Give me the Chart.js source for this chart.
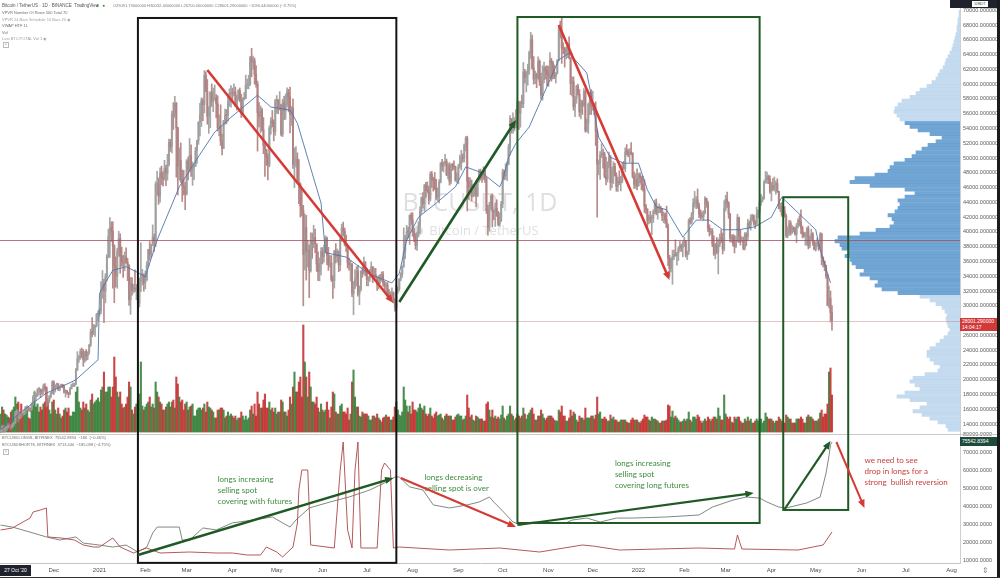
<!DOCTYPE html>
<html><head><meta charset="utf-8">
<script src="https://cdn.jsdelivr.net/npm/chart.js@4.4.1/dist/chart.umd.min.js"></script>
<style>
html,body{margin:0;padding:0;background:#fff;}
#wrap{position:relative;width:1000px;height:578px;overflow:hidden;background:#fff;font-family:"Liberation Sans",Arial,sans-serif;}
#c{position:absolute;left:0;top:0;}
.t{position:absolute;white-space:nowrap;color:#6d6d6d;font-size:4px;line-height:5px;}
.box{position:absolute;white-space:nowrap;font-size:5px;line-height:6px;color:#fff;}
</style></head><body>
<div id="wrap">
<canvas id="c" width="1000" height="578"></canvas>
<div class="t" style="left:2px;top:3px;color:#555;font-size:4.5px;">Bitcoin / TetherUS · 1D · BINANCE &nbsp;TradingView</div>
<div class="t" style="left:96px;top:3px;color:#3a8a3a;font-size:4.5px;">● &nbsp;&nbsp;●</div>
<div class="t" style="left:113px;top:3px;font-size:4px;color:#7a7a7a;">O29091.73000000 H30032.44000000 L26700.00000000 C28001.29000000 −1090.44000000 (−3.75%)</div>
<div class="t" style="left:2px;top:10px;">VPVR Number Of Rows 500 Total 70</div>
<div class="t" style="left:2px;top:16.5px;color:#a0a0a0;">VPVR 24 Bars Schedule 10 Bars 20 ◉</div>
<div class="t" style="left:2px;top:23px;">VWAP HTF 1L</div>
<div class="t" style="left:2px;top:29.5px;">Vol</div>
<div class="t" style="left:2px;top:36px;color:#a0a0a0;">Last BTC/TOTAL Vol 1 ◉</div>
<div class="t" style="left:3px;top:42px;border:1px solid #bbb;padding:0 1px;font-size:4px;line-height:4px;">^</div>
<div class="t" style="left:2px;top:435px;">BTCUSDLONGS, BITFINEX &nbsp;75542.8394 &nbsp;−180 &nbsp;(−0.46%)</div>
<div class="t" style="left:2px;top:442px;">BTCUSDSHORTS, BITFINEX &nbsp;3713.440 &nbsp;−185.098 (−4.75%)</div>
<div class="t" style="left:3px;top:449px;border:1px solid #bbb;padding:0 1px;font-size:4px;line-height:4px;">^</div>
<div class="box" style="left:0;top:565px;width:31px;height:11px;background:#1e222d;font-size:5px;line-height:11px;text-align:center;">27 Oct '20</div>
<div class="t" style="left:982px;top:567px;color:#888;font-size:8px;line-height:8px;">⇕</div>
<div class="box" style="left:960px;top:318px;width:40px;height:13px;background:#d23a3a;padding-left:2px;line-height:6px;">28001.290000<br>14:04:17</div>
<div class="box" style="left:960px;top:437px;width:40px;height:9px;background:#1d4a3a;padding-left:2px;line-height:9px;">75542.8394</div>
<div class="box" style="left:950px;top:0;width:50px;height:8px;background:#1e222d;"></div>
<div class="box" style="left:972px;top:1px;width:16px;height:6px;background:#fff;color:#333;font-size:4px;text-align:center;">USDT</div>
<div style="position:absolute;left:997px;top:0;width:3px;height:578px;background:#1b1b1b;"></div>
<div style="position:absolute;left:0;top:577px;width:1000px;height:1px;background:#333;"></div>
</div>
<script>
// ---------- DATA ----------
const START_DATE = '2020-10-26';
const PRICE_UNIT = 1000;
const OPEN_FIRST = 13.03;
// daily closes (thousand USDT), 2020-10-26 .. 2022-05-12
const CLOSE = [
13.05,13.65,13.27,13.46,13.56,13.80,
13.76,13.55,14.03,14.15,15.59,15.59,14.83,15.48,15.33,15.30,15.70,16.29,16.32,16.07,15.96,16.73,17.66,17.80,17.82,18.66,18.70,18.41,18.37,19.16,18.72,17.15,17.14,17.72,18.18,19.70,
18.76,19.20,19.42,18.65,19.15,19.36,19.17,18.32,18.55,18.26,18.04,18.80,19.17,19.27,19.43,21.35,22.80,23.11,23.82,23.45,22.72,23.81,23.23,23.73,24.69,26.49,26.28,27.03,27.36,28.84,28.92,
29.33,32.18,33.00,31.99,33.95,36.77,39.43,40.58,40.09,38.15,35.40,34.04,37.39,39.14,36.73,36.01,35.79,36.63,35.89,35.47,30.83,33.00,32.07,32.27,32.25,32.47,30.37,33.40,34.26,34.26,33.11,
33.52,35.47,37.62,36.94,38.29,39.26,38.87,46.45,46.51,44.84,47.97,47.41,47.19,48.58,47.91,49.13,52.12,51.55,55.91,55.84,57.41,54.09,48.89,49.68,47.07,46.28,46.11,45.14,
49.59,48.44,50.35,48.37,48.75,48.88,50.97,52.38,54.88,55.86,57.78,57.22,61.19,59.00,55.64,56.91,58.91,57.65,58.03,58.10,57.35,54.08,54.34,52.30,51.30,55.03,55.85,55.78,57.63,58.73,58.74,
58.72,58.96,57.06,58.20,59.13,57.99,56.00,58.09,58.09,59.86,59.86,59.99,63.58,62.96,63.16,61.33,60.01,56.15,55.66,56.47,53.80,51.70,51.19,50.10,49.06,54.03,55.03,54.83,53.56,57.75,
57.83,56.62,57.21,53.24,57.47,56.43,57.38,58.93,58.28,55.86,56.75,49.15,49.72,49.88,46.76,46.45,43.54,42.91,36.96,40.60,37.32,37.54,34.77,38.81,38.32,39.24,38.43,35.69,34.61,35.68,37.34,
36.69,37.57,39.19,36.89,35.54,35.80,33.58,33.40,37.39,36.68,37.33,35.55,39.02,40.52,40.14,38.35,38.09,35.82,35.48,35.60,31.68,32.51,33.68,34.66,31.59,32.28,34.70,34.49,35.91,35.04,
33.57,33.80,34.67,35.29,33.69,34.22,33.86,32.88,33.82,33.52,34.24,33.16,32.70,32.82,31.78,31.42,31.52,31.78,30.84,29.79,32.14,32.29,33.66,34.29,35.40,37.28,39.46,40.03,40.01,42.24,41.63,
39.97,39.20,38.15,39.75,40.87,42.84,44.61,43.83,46.29,45.60,45.54,44.43,47.83,47.10,47.02,45.94,44.69,44.74,46.76,49.34,48.87,49.29,49.55,47.71,48.97,46.84,49.07,48.90,48.81,46.99,47.13,
48.83,49.28,50.03,49.94,51.79,52.70,46.86,46.05,46.40,44.85,45.17,46.03,44.94,47.10,48.15,47.75,47.30,48.31,47.26,42.96,40.59,43.57,44.90,42.84,42.72,43.21,42.23,41.03,41.56,43.79,
48.14,47.63,48.20,49.22,51.47,55.32,53.80,53.93,54.95,54.66,57.47,56.01,57.37,57.35,61.67,60.88,61.53,62.01,64.28,66.00,62.19,60.69,61.29,60.85,63.08,60.33,58.46,60.59,62.25,61.85,61.30,
60.91,63.22,62.90,61.40,61.00,61.53,63.27,67.53,66.94,64.88,64.81,64.15,64.40,65.50,63.60,60.06,60.36,56.89,58.05,59.71,58.62,56.25,57.54,57.14,58.96,53.73,54.72,57.27,57.81,56.95,
57.18,56.48,53.60,49.15,49.40,50.44,50.59,50.47,47.55,47.14,49.39,50.12,46.70,48.34,48.86,47.63,46.13,46.83,46.68,46.91,48.90,48.59,50.82,50.81,50.43,50.78,50.68,47.54,46.46,47.12,46.22,
47.72,47.29,46.43,45.83,43.43,43.08,41.55,41.86,41.82,41.82,42.74,43.92,42.59,43.07,43.08,43.07,42.20,42.35,41.66,40.68,36.45,35.03,36.28,36.65,36.95,36.81,37.16,37.71,38.17,37.92,38.47,
38.74,36.90,37.32,41.57,41.38,42.38,43.84,44.04,44.35,43.51,42.39,42.21,42.05,42.54,44.54,43.88,40.52,40.00,40.08,38.36,37.01,38.23,37.25,38.33,39.21,39.11,37.70,43.18,
44.42,43.92,42.45,39.15,39.40,38.42,38.06,38.73,41.94,39.44,38.79,38.82,37.78,39.67,39.34,41.14,40.95,41.80,42.19,41.25,41.08,42.36,42.89,43.96,44.35,44.50,46.82,47.13,47.47,47.07,45.51,
46.28,45.81,46.41,46.58,45.50,43.17,43.44,42.28,42.78,42.16,39.53,40.07,41.15,39.94,40.55,40.38,39.68,40.80,41.50,41.37,40.53,39.74,39.45,39.45,40.43,38.11,39.24,39.74,38.60,37.63,
38.47,38.53,37.71,39.69,36.55,36.01,35.47,34.04,30.07,31.01,29.08,28.00];
const HIGH = [
13.25,13.79,13.86,13.64,13.69,14.10,
13.90,13.83,14.07,14.26,15.75,15.96,15.75,15.50,15.85,15.50,15.97,16.37,16.48,16.35,16.12,16.88,17.86,18.48,18.10,18.82,18.96,18.75,18.77,19.42,19.48,18.92,17.46,17.88,18.34,19.86,
19.87,19.31,19.55,19.50,19.17,19.42,19.40,19.28,18.64,18.58,18.32,18.95,19.41,19.57,19.55,21.56,23.80,23.28,24.17,24.29,24.10,23.84,24.10,23.79,24.79,26.86,28.42,27.50,27.40,28.99,29.30,
29.60,33.30,34.78,33.60,34.36,36.94,40.37,41.95,41.38,41.38,38.26,36.63,37.80,40.10,39.75,37.95,36.85,37.30,37.85,36.42,35.60,33.85,33.83,32.94,34.88,32.92,32.56,33.78,38.53,34.93,34.32,
34.72,35.98,37.66,38.70,38.31,40.95,39.70,46.79,48.20,47.31,48.68,48.90,48.18,49.70,49.00,50.50,52.58,52.53,56.37,57.50,58.35,57.53,54.18,51.37,52.04,48.40,48.32,46.70,
49.79,50.13,52.64,51.77,49.45,49.20,51.45,52.40,54.90,57.39,58.15,58.06,61.84,61.68,60.63,56.94,58.98,60.04,59.47,59.88,58.59,58.43,55.84,57.20,53.23,55.10,56.64,56.56,58.41,59.37,59.80,
59.46,60.04,59.60,58.50,59.26,59.48,58.65,58.15,58.89,61.22,60.69,61.20,63.77,64.85,63.80,63.52,62.50,60.41,57.52,57.06,56.76,55.48,52.12,51.17,50.56,54.36,55.46,56.43,55.19,57.96,
58.46,57.93,58.98,57.23,57.95,58.36,58.65,59.50,59.30,59.60,57.00,58.00,51.37,51.56,50.70,49.80,46.65,45.83,43.60,42.45,42.25,38.86,38.25,39.90,39.85,40.90,40.40,38.20,37.30,36.48,37.90,
37.89,38.23,39.48,39.29,37.92,36.79,36.80,34.07,37.53,38.42,37.69,37.43,39.39,41.06,41.33,40.53,39.56,38.20,36.46,36.12,35.75,33.30,34.88,35.30,35.50,32.70,34.75,35.30,36.60,36.00,
35.04,33.94,34.95,35.95,35.29,35.11,35.06,33.92,34.10,34.27,34.59,34.65,33.35,33.11,33.19,32.25,31.94,32.45,31.90,31.03,32.86,32.58,33.65,34.50,35.40,40.55,39.54,40.90,40.63,42.32,42.59,
42.60,40.46,39.78,39.97,41.39,43.39,44.75,45.31,46.45,46.72,46.78,46.22,48.14,48.18,47.40,48.05,47.16,45.98,47.10,49.38,49.82,49.50,50.50,49.87,49.25,49.38,49.17,49.31,49.63,48.91,48.00,
49.15,50.40,51.05,50.56,51.90,52.92,52.96,47.39,47.34,47.03,45.99,46.46,46.88,47.25,48.48,48.50,48.20,48.84,48.37,47.36,43.64,44.00,45.00,45.17,42.97,43.93,44.35,42.79,42.59,44.14,
48.50,48.36,49.23,49.50,51.89,55.75,55.34,56.10,55.49,56.56,57.84,57.68,57.69,58.53,62.93,62.00,61.72,62.70,64.49,67.00,66.64,63.73,61.75,61.50,63.71,63.29,61.50,62.50,62.98,62.40,62.50,
62.42,64.27,63.50,63.09,62.59,61.56,63.29,67.79,68.52,69.00,65.60,65.00,65.00,65.55,66.40,63.60,61.00,60.98,58.35,59.85,60.00,59.27,57.88,57.80,59.40,59.20,55.28,57.45,58.87,59.25,
59.04,57.40,57.60,53.87,49.73,50.87,51.94,51.20,50.80,50.10,49.50,50.80,50.35,48.70,49.50,49.30,48.00,47.38,48.28,47.54,49.33,49.55,51.38,51.82,51.16,51.28,52.09,50.70,48.14,47.88,48.55,
47.95,47.99,47.57,47.50,47.07,43.75,43.15,42.30,42.79,42.25,43.00,44.32,44.46,43.46,43.79,43.48,43.20,42.69,42.56,43.50,41.10,36.84,36.50,37.55,37.55,38.92,37.23,38.00,38.72,38.36,38.74,
39.27,38.86,37.39,41.77,41.95,42.65,44.50,45.49,44.80,45.82,43.92,42.99,42.73,42.88,44.77,44.58,44.17,40.96,40.48,40.45,39.49,38.47,39.25,38.97,39.73,40.30,39.85,44.23,
44.95,45.40,44.10,42.50,39.62,39.69,39.55,39.40,42.40,42.00,40.24,39.30,39.31,39.93,39.90,41.72,41.48,42.33,42.40,42.30,41.54,43.36,43.00,44.20,45.10,44.80,46.92,48.19,48.10,47.70,47.60,
46.72,47.21,47.44,46.89,47.20,45.51,43.90,43.97,42.80,43.43,42.41,40.70,41.56,41.50,40.90,40.71,40.62,41.15,41.76,42.20,42.98,40.80,39.98,39.93,40.62,40.80,39.44,40.37,39.90,38.80,
38.67,39.17,38.65,39.90,39.85,36.65,36.10,35.51,34.32,32.66,32.01,30.03];
const LOW = [
12.80,13.05,12.92,12.99,13.12,13.42,
13.60,13.21,13.52,13.79,14.10,15.20,14.34,14.70,14.83,15.08,15.27,15.46,15.96,15.79,15.70,15.88,16.56,17.23,17.35,17.75,18.03,17.61,18.00,18.07,18.60,16.33,16.51,16.89,17.52,18.11,
18.00,18.33,18.87,18.55,18.50,18.95,18.90,18.20,17.65,18.05,17.57,18.00,18.75,19.05,19.05,19.30,21.23,22.35,22.75,22.99,21.82,22.35,22.60,22.72,23.45,24.50,25.80,26.10,25.88,27.15,27.85,
28.62,28.95,31.00,27.73,30.40,33.39,36.49,36.57,38.72,32.39,30.42,32.53,32.38,36.70,34.41,35.36,33.85,34.75,35.75,33.40,30.07,28.85,31.43,31.73,31.92,30.84,29.24,29.84,31.91,32.81,32.00,
32.30,33.42,35.36,36.16,36.57,38.14,37.35,38.05,45.00,43.73,44.03,46.40,46.20,47.00,46.25,47.00,48.95,50.90,50.70,53.86,55.48,47.40,45.00,47.00,46.70,44.12,45.00,43.00,
45.00,47.05,48.10,47.50,46.30,47.07,48.87,49.27,51.85,53.00,54.27,55.05,56.10,58.97,54.57,53.35,54.12,57.00,56.27,57.82,55.45,53.65,53.00,51.70,50.43,51.27,54.55,54.64,55.00,57.00,56.88,
57.77,58.40,57.00,56.48,57.80,57.60,55.47,55.93,57.85,58.02,59.37,59.36,59.84,61.00,62.02,60.00,59.58,50.93,54.22,53.42,53.62,50.58,47.50,49.00,47.04,48.81,53.22,54.22,52.33,53.07,
56.04,56.00,56.51,53.00,52.90,55.20,55.24,56.94,56.24,53.40,54.40,48.60,46.00,48.80,46.56,43.82,42.00,42.17,30.00,34.85,33.49,35.25,31.11,34.56,36.42,37.84,37.20,34.68,33.40,33.38,34.20,
35.67,35.92,37.17,35.56,34.80,35.26,33.30,31.00,32.40,35.80,35.94,34.62,34.76,38.73,39.51,38.12,37.37,35.13,34.83,33.34,31.25,28.80,32.32,32.71,31.30,30.15,31.98,33.86,34.24,34.04,
32.71,32.70,33.31,34.46,33.15,33.52,33.78,32.10,32.27,33.02,33.31,32.66,32.21,31.60,31.14,31.06,31.15,31.10,30.40,29.28,29.48,31.71,32.00,33.40,33.87,35.20,36.38,38.80,39.20,38.31,41.03,
39.42,38.69,37.64,37.51,39.32,39.84,42.46,43.26,42.80,44.66,45.34,43.77,44.18,46.02,45.52,45.70,44.38,44.20,43.93,46.64,48.30,48.11,49.05,47.60,47.17,46.34,46.50,48.30,48.45,46.85,46.70,
46.51,48.63,48.37,49.45,49.46,50.97,42.84,44.41,45.50,44.20,44.75,44.81,43.37,44.75,46.72,47.02,46.70,47.05,46.70,42.50,39.58,40.10,43.08,40.68,41.64,40.75,42.10,40.83,40.75,41.41,
43.29,47.04,47.13,46.94,49.06,50.38,53.36,53.36,53.67,54.10,54.42,53.88,54.17,56.83,56.82,60.15,58.94,59.85,61.32,63.48,62.00,60.00,60.07,59.52,60.68,59.80,58.00,57.82,60.15,60.67,59.80,
59.70,60.73,60.40,60.70,60.74,60.15,61.36,63.14,66.23,62.80,64.10,62.30,63.40,63.60,63.40,58.57,58.37,56.47,55.58,57.40,58.50,55.63,55.30,55.90,57.00,53.50,53.55,53.33,55.87,55.90,
56.46,55.84,51.69,42.00,47.73,47.10,50.04,48.62,47.32,46.35,46.75,48.65,45.67,46.00,46.55,47.56,45.50,45.50,46.40,45.55,46.64,48.47,48.13,50.40,50.17,49.42,50.47,47.30,45.90,45.90,45.68,
46.21,46.66,45.70,45.52,42.65,42.50,40.50,41.10,41.23,39.65,41.27,42.46,42.32,41.73,42.60,42.57,41.54,41.25,41.14,40.57,35.44,34.00,34.60,32.92,36.24,36.70,35.51,36.15,37.40,37.35,36.63,
38.01,36.60,36.25,36.95,41.05,41.06,41.65,43.34,43.16,43.20,41.94,41.72,41.84,41.58,42.43,43.33,40.07,39.45,39.65,38.00,36.81,36.35,37.04,34.32,38.00,38.57,37.02,37.45,
42.82,43.33,41.83,38.65,38.60,38.09,37.16,37.86,38.66,38.54,38.22,38.66,37.58,37.56,38.12,38.85,40.53,40.25,41.51,40.91,40.47,40.89,41.90,42.57,43.60,44.07,44.42,46.60,46.58,46.53,45.20,
44.20,45.62,45.53,45.12,45.35,43.12,42.73,42.11,42.10,42.00,39.25,39.20,39.55,39.55,39.77,39.99,39.55,38.54,40.56,40.81,39.75,39.18,39.29,38.20,38.20,37.70,37.86,38.90,38.18,37.57,
37.39,38.05,37.50,37.67,35.55,35.26,34.74,33.71,30.00,29.73,27.80,26.70];
// daily volume (relative units)
const VOLUME = [
18,25,22,18,17,15,
14,20,22,25,35,28,30,20,28,18,18,25,22,14,13,24,32,40,25,28,20,25,22,28,30,45,30,22,18,30,
32,22,18,24,18,14,16,22,24,20,24,16,16,20,20,40,45,30,24,22,30,24,28,22,20,32,38,28,30,32,34,
30,42,45,60,40,40,45,45,35,45,75,55,40,35,40,28,24,25,28,35,50,45,22,18,25,28,32,38,70,26,22,
25,28,30,35,25,28,24,50,40,35,30,28,22,22,25,28,30,25,30,32,24,55,48,35,30,32,22,28,
30,22,25,26,28,16,16,22,24,24,22,24,28,20,30,25,24,22,20,14,14,22,22,24,24,22,14,16,20,16,18,
16,14,16,12,14,14,20,16,12,16,12,14,22,26,18,28,16,40,28,24,24,32,38,24,24,30,22,24,20,24,
18,20,20,32,30,20,20,16,22,35,28,45,60,40,40,50,55,35,107,70,55,35,60,45,30,30,28,35,24,20,28,
22,20,22,30,22,14,25,40,38,20,18,18,26,28,20,20,18,24,12,18,50,62,35,25,25,16,15,20,18,18,
18,16,12,12,16,16,14,18,14,12,10,14,15,17,15,15,12,12,15,25,30,22,17,16,20,45,32,26,20,26,18,
30,22,22,20,24,28,24,22,26,18,16,18,24,16,14,18,20,16,17,18,14,12,16,18,16,16,16,12,12,15,17,
18,16,16,12,13,16,37,24,15,17,12,11,16,15,13,13,13,11,11,28,30,22,15,22,14,16,13,15,13,17,
26,14,12,16,18,26,18,16,12,14,18,16,14,16,24,18,13,17,19,22,24,18,12,12,16,16,22,18,14,12,14,
16,16,16,14,12,11,11,22,20,26,16,16,11,11,14,22,16,20,18,12,10,16,14,14,12,24,14,14,14,16,
16,13,17,35,18,20,13,13,15,13,11,11,17,13,15,12,12,10,10,12,12,12,12,10,9,9,12,14,12,12,12,
10,9,11,13,17,15,15,12,11,15,13,13,12,11,9,9,11,11,11,12,27,26,15,21,14,16,14,12,10,10,11,
13,11,13,20,12,10,15,15,13,17,15,11,9,11,13,11,15,13,11,13,15,15,13,24,16,12,12,37,
18,15,13,15,10,9,15,13,15,15,11,9,9,13,11,15,11,13,9,9,11,13,11,13,13,9,11,19,15,13,13,
13,11,9,11,11,15,13,11,9,9,17,15,13,13,9,9,9,13,13,13,15,13,9,9,15,17,15,15,13,11,
11,11,13,19,22,15,18,18,28,60,64,37];
// blue average line (thousand USDT)
const AVG_DATES = ['2020-10-26','2020-11-08','2020-11-26','2020-12-12','2020-12-16','2020-12-31','2021-01-01','2021-01-06','2021-01-10','2021-01-19','2021-01-28','2021-02-01','2021-02-09','2021-02-24','2021-03-10','2021-03-20','2021-03-31','2021-04-09','2021-04-18','2021-04-27','2021-05-10','2021-05-15','2021-05-31','2021-06-03','2021-06-17','2021-07-02','2021-07-18','2021-07-23','2021-07-28','2021-08-05','2021-08-17','2021-08-30','2021-09-06','2021-09-17','2021-09-29','2021-10-01','2021-10-05','2021-10-10','2021-10-19','2021-10-26','2021-11-08','2021-11-15','2021-11-27','2021-12-01','2021-12-05','2021-12-13','2021-12-22','2022-01-01','2022-01-07','2022-01-13','2022-01-20','2022-01-31','2022-02-09','2022-02-18','2022-02-27','2022-03-10','2022-03-21','2022-04-01','2022-04-08','2022-04-19','2022-05-01','2022-05-04','2022-05-11'];
const AVG_VALUES = [13.2,15.5,18.2,19.6,20.0,22.7,31.7,33.5,34.8,35.3,34.4,33.9,38.9,46.1,50.5,53.5,55.5,57.0,58.5,56.9,56.5,54.7,43.9,37.2,36.6,34.4,33.1,34.4,38.9,42.0,43.9,46.1,48.8,48.0,46.1,47.0,50.1,52.0,54.2,57.4,63.3,64.2,61.5,57.4,52.8,50.1,49.3,49.3,45.7,43.4,43.0,39.3,41.6,41.6,40.3,40.3,40.7,42.0,44.7,42.6,40.3,37.6,33.1];
// lower pane: BTCUSDLONGS (thousand BTC)
const LONGS_DATES = ['2020-10-26','2020-11-03','2020-11-17','2020-11-26','2020-12-05','2020-12-16','2020-12-21','2021-01-01','2021-01-10','2021-01-19','2021-01-27','2021-02-02','2021-02-06','2021-02-09','2021-02-24','2021-02-26','2021-03-03','2021-03-12','2021-03-21','2021-04-01','2021-04-15','2021-04-28','2021-05-10','2021-05-14','2021-05-23','2021-06-06','2021-06-19','2021-07-03','2021-07-13','2021-07-20','2021-07-23','2021-07-30','2021-08-08','2021-08-15','2021-08-26','2021-09-07','2021-09-15','2021-09-22','2021-09-25','2021-09-29','2021-10-08','2021-10-13','2021-10-21','2021-11-13','2021-11-17','2021-11-27','2021-12-06','2021-12-17','2021-12-28','2022-01-20','2022-02-11','2022-02-20','2022-03-06','2022-03-15','2022-03-24','2022-03-29','2022-04-06','2022-04-11','2022-04-25','2022-05-04','2022-05-08','2022-05-10','2022-05-11','2022-05-12'];
const LONGS_VALUES = [29.4,28.3,25.0,22.8,21.1,22.8,19.4,18.3,17.2,18.3,14.4,17.2,25.0,28.3,28.3,21.1,21.1,27.8,26.7,30.6,32.2,33.9,28.3,32.2,38.9,42.2,45.0,48.9,52.8,56.1,56.1,50.6,48.9,40.6,38.9,40.6,42.2,45.0,42.2,38.9,31.1,29.4,31.1,30.6,32.2,33.3,31.1,33.3,33.3,33.9,35.0,39.4,43.3,45.0,44.4,42.2,39.4,38.9,41.7,45.0,58.3,68.0,74.0,75.5];
// lower pane: BTCUSDSHORTS (BTC)
const SHORTS_DATES = ['2020-10-26','2020-11-03','2020-11-15','2020-11-17','2020-11-22','2020-11-26','2020-11-27','2020-12-06','2020-12-15','2020-12-21','2020-12-28','2021-01-01','2021-01-10','2021-01-15','2021-01-24','2021-01-29','2021-02-02','2021-02-11','2021-03-03','2021-03-21','2021-04-01','2021-04-11','2021-04-20','2021-04-24','2021-05-01','2021-05-05','2021-05-12','2021-05-15','2021-05-16','2021-05-18','2021-05-22','2021-05-24','2021-06-09','2021-06-13','2021-06-15','2021-06-18','2021-06-21','2021-06-23','2021-06-25','2021-06-27','2021-07-08','2021-07-11','2021-07-13','2021-07-17','2021-07-19','2021-07-23','2021-08-26','2021-09-29','2021-10-26','2021-11-24','2021-12-01','2021-12-19','2022-02-11','2022-03-07','2022-03-09','2022-03-12','2022-04-19','2022-05-06','2022-05-12'];
const SHORTS_VALUES = [3960,4200,5400,6120,6360,6600,3120,3000,2760,2160,1920,1920,3000,1920,1200,1560,1800,1200,1320,1200,1200,960,960,1920,1320,720,1920,4800,8760,11160,11160,2160,1800,11160,14520,3960,1800,11160,14520,1800,1800,11160,12000,11160,1800,1920,1560,1800,1320,2160,2040,1560,1800,1680,3360,1680,1560,2160,3720];
// horizontal levels (USDT)
const LEVELS = [38900, 28001.29];
// volume profile: rows of 500 USDT from 13000 upward
const PROFILE_LOW = 13000, PROFILE_STEP = 500;
const PROFILE_VOL = [12,14,22,30,38,47,40,33,50,63,55,40,45,50,47,35,22,20,26,30,33,33,30,24,20,16,12,10,12,13,14,13,15,18,24,30,40,62,78,85,82,90,100,96,104,108,110,115,112,118,120,125,122,100,84,70,66,68,72,65,62,60,62,55,45,55,90,110,105,85,72,70,66,55,48,44,38,32,24,18,30,42,50,55,60,63,66,65,62,58,50,44,40,33,28,24,22,20,17,15,14,12,10,8,7,6,5,4,3,3,2,2,1,1];
const VALUE_AREA = [31500, 55000];
// axes
const PRICE_TICKS = [14000,16000,18000,20000,22000,24000,26000,28000,30000,32000,34000,36000,38000,40000,42000,44000,46000,48000,50000,52000,54000,56000,58000,60000,62000,64000,66000,68000,70000];
const LOWER_TICKS = [10000,20000,30000,40000,50000,60000,70000,80000];
const MONTH_TICKS = [['2020-12-01','Dec'],['2021-01-01','2021'],['2021-02-01','Feb'],['2021-03-01','Mar'],['2021-04-01','Apr'],['2021-05-01','May'],['2021-06-01','Jun'],['2021-07-01','Jul'],['2021-08-01','Aug'],['2021-09-01','Sep'],['2021-10-01','Oct'],['2021-11-01','Nov'],['2021-12-01','Dec'],['2022-01-01','2022'],['2022-02-01','Feb'],['2022-03-01','Mar'],['2022-04-01','Apr'],['2022-05-01','May'],['2022-06-01','Jun'],['2022-07-01','Jul'],['2022-08-01','Aug']];
// annotations drawn on the chart (date, value on the pane's axis)
const BOXES = [
  {from:'2021-01-27', to:'2021-07-21', top:68950, bottom:8400, color:'#151515'},
  {from:'2021-10-11', to:'2022-03-24', top:69080, bottom:30550, color:'#1f5a24'},
  {from:'2022-04-09', to:'2022-05-23', top:44700, bottom:37800, color:'#1f5a24'}];
const ARROWS = [
  {axis:'y',  from:['2021-03-15',61910], to:['2021-07-19',30390], color:'#d63a35', width:2.6},
  {axis:'y',  from:['2021-07-23',30520], to:['2021-10-10',55150], color:'#1f5a24', width:2.6},
  {axis:'y',  from:['2021-11-08',68000], to:['2022-01-22',33500], color:'#d63a35', width:2.6},
  {axis:'y2', from:['2021-01-27',12770], to:['2021-07-19',55550], color:'#1f5a24', width:2.4},
  {axis:'y2', from:['2021-07-24',55550], to:['2021-10-10',28330], color:'#d63a35', width:2.2},
  {axis:'y2', from:['2021-10-11',29440], to:['2022-03-20',47220], color:'#1f5a24', width:2.2},
  {axis:'y2', from:['2022-04-10',38330], to:['2022-05-11',76110], color:'#1f5a24', width:2.2},
  {axis:'y2', from:['2022-05-15',75560], to:['2022-06-03',38890], color:'#d63a35', width:2}];
const NOTES = [
  {at:['2021-03-22',55000], lines:['longs increasing','selling spot','covering with futures'], color:'#3f8c3f'},
  {at:['2021-08-09',56110], lines:['longs decreasing','selling spot is over'], color:'#3f8c3f'},
  {at:['2021-12-16',63890], lines:['longs increasing','selling spot','covering long futures'], color:'#3f8c3f'},
  {at:['2022-06-03',65560], lines:['we need to see','drop in longs for a','strong  bullish reversion'], color:'#c8413c'}];

// ---------- LAYOUT CONSTANTS ----------
const X_RANGE = [-0.4, 649.7];          // day range shown
const PRICE_RANGE = [12662, 70300];
const LOWER_RANGE = [8328, 80000];
const PANE_WEIGHTS = [426, 129];
const VOL_RANGE = [-131, 424];
const SHORTS_RANGE = [0, 66600];
const PROFILE_RANGE = [0, 960];

// ---------- BUILD ----------
const t0 = Date.parse(START_DATE + 'T00:00:00Z');
const dayOf = s => Math.round((Date.parse(s + 'T00:00:00Z') - t0) / 864e5);
const N = Math.min(CLOSE.length, HIGH.length, LOW.length);
const wick = [], body = [], vol = [], candleCol = [], volCol = [];
for (let i = 0; i < N; i++) {
  const o = i ? CLOSE[i-1] : OPEN_FIRST, c = CLOSE[i];
  const up = c >= o;
  wick.push({x: i, y: [LOW[i]*PRICE_UNIT, HIGH[i]*PRICE_UNIT]});
  body.push({x: i, y: [o*PRICE_UNIT, c*PRICE_UNIT]});
  vol.push({x: i, y: VOLUME[i] || 0});
  candleCol.push(up ? 'rgba(158,158,158,0.92)' : 'rgba(178,128,128,0.92)');
  volCol.push(up ? 'rgba(52,128,56,0.88)' : 'rgba(196,46,46,0.88)');
}
const pricePerPx = (PRICE_RANGE[1]-PRICE_RANGE[0]) / PANE_WEIGHTS[0];
const profile = PROFILE_VOL.map((v,i) => ({x: v, y: PROFILE_LOW + (i+0.5)*PROFILE_STEP}));
const profCol = profile.map(p => (p.y > VALUE_AREA[0] && p.y < VALUE_AREA[1]) ? 'rgba(92,152,206,0.88)' : 'rgba(184,212,236,0.85)');
const rowPx = PROFILE_STEP / pricePerPx;
const avg = AVG_DATES.map((d,i) => ({x: dayOf(d), y: AVG_VALUES[i]*PRICE_UNIT}));
const longs = LONGS_DATES.map((d,i) => ({x: dayOf(d), y: LONGS_VALUES[i]*1000}));
const shorts = SHORTS_DATES.map((d,i) => ({x: dayOf(d), y: SHORTS_VALUES[i]}));
const monthLabel = {};
MONTH_TICKS.forEach(m => monthLabel[dayOf(m[0])] = m[1]);

Chart.defaults.font.family = '"Liberation Sans", Arial, sans-serif';

function drawArrow(ctx, x1, y1, x2, y2, color, w) {
  const a = Math.atan2(y2-y1, x2-x1), hl = 9, hw = 0.4;
  ctx.save();
  ctx.strokeStyle = color; ctx.fillStyle = color; ctx.lineWidth = w; ctx.lineCap = 'butt';
  ctx.beginPath(); ctx.moveTo(x1, y1); ctx.lineTo(x2 - hl*0.7*Math.cos(a), y2 - hl*0.7*Math.sin(a)); ctx.stroke();
  ctx.beginPath(); ctx.moveTo(x2, y2);
  ctx.lineTo(x2 - hl*Math.cos(a-hw), y2 - hl*Math.sin(a-hw));
  ctx.lineTo(x2 - hl*Math.cos(a+hw), y2 - hl*Math.sin(a+hw));
  ctx.closePath(); ctx.fill();
  ctx.restore();
}

const decor = {
  id: 'decor',
  beforeDatasetsDraw(chart) {
    const {ctx, chartArea: ca, scales} = chart;
    const y = scales.y;
    const cx = (ca.left + ca.right) / 2;
    const cy = y.top + (y.bottom - y.top) * 0.46;
    ctx.save();
    ctx.textAlign = 'center'; ctx.textBaseline = 'middle';
    ctx.fillStyle = 'rgba(130,132,140,0.26)';
    ctx.font = '25px "Open Sans", sans-serif';
    ctx.fillText('BTCUSDT, 1D', cx, cy);
    ctx.font = '13px "Open Sans", sans-serif';
    ctx.fillText('Bitcoin / TetherUS', cx + 4, cy + 27);
    ctx.beginPath(); ctx.arc(cx - 62, cy + 27, 5, 0, Math.PI*2); ctx.fill();
    ctx.restore();
  },
  afterDatasetsDraw(chart) {
    const {ctx, chartArea: ca, scales} = chart;
    const x = scales.x;
    ctx.save();
    ctx.strokeStyle = '#c9c9c9'; ctx.lineWidth = 1;
    ctx.beginPath(); ctx.moveTo(0, Math.round(scales.y2.top) + 0.5); ctx.lineTo(1000, Math.round(scales.y2.top) + 0.5); ctx.stroke();
    LEVELS.forEach((v, i) => {
      const py = Math.round(scales.y.getPixelForValue(v)) + 0.5;
      ctx.strokeStyle = i === 0 ? 'rgba(165,80,95,0.8)' : 'rgba(190,150,150,0.55)';
      ctx.beginPath(); ctx.moveTo(ca.left, py); ctx.lineTo(ca.right, py); ctx.stroke();
    });
    ctx.textBaseline = 'middle'; ctx.textAlign = 'left';
    ctx.font = '8px Lato, "Liberation Sans", sans-serif';
    NOTES.forEach(n => {
      const px = x.getPixelForValue(dayOf(n.at[0]));
      const py = scales.y2.getPixelForValue(n.at[1]);
      ctx.fillStyle = n.color;
      n.lines.forEach((s, k) => ctx.fillText(s, px, py + k*11));
    });
    BOXES.forEach(b => {
      const x1 = x.getPixelForValue(dayOf(b.from)), x2 = x.getPixelForValue(dayOf(b.to));
      const y1 = scales.y.getPixelForValue(b.top), y2 = scales.y2.getPixelForValue(b.bottom);
      ctx.strokeStyle = b.color; ctx.lineWidth = 2;
      ctx.strokeRect(x1, y1, x2 - x1, y2 - y1);
    });
    ARROWS.forEach(a => {
      const s = scales[a.axis];
      drawArrow(ctx, x.getPixelForValue(dayOf(a.from[0])), s.getPixelForValue(a.from[1]),
                x.getPixelForValue(dayOf(a.to[0])), s.getPixelForValue(a.to[1]), a.color, a.width);
    });
    ctx.restore();
  }
};

new Chart(document.getElementById('c'), {
  type: 'bar',
  data: {
    datasets: [
      {type:'bar', label:'VPVR', indexAxis:'y', xAxisID:'xvp', yAxisID:'y', data: profile,
       backgroundColor: profCol, barThickness: Math.max(1, rowPx - 0.35), maxBarThickness: Math.max(1, rowPx - 0.35), grouped:false, order: 20},
      {type:'bar', label:'Vol', xAxisID:'x', yAxisID:'yv', data: vol, backgroundColor: volCol,
       barThickness: 1.45, maxBarThickness: 1.45, grouped:false, order: 15},
      {type:'bar', label:'wick', xAxisID:'x', yAxisID:'y', data: wick, backgroundColor: candleCol,
       barThickness: 1, maxBarThickness: 1, grouped:false, order: 10},
      {type:'bar', label:'body', xAxisID:'x', yAxisID:'y', data: body, backgroundColor: candleCol,
       barThickness: 1.35, maxBarThickness: 1.35, minBarLength: 1, grouped:false, order: 9},
      {type:'line', label:'avg', xAxisID:'x', yAxisID:'y', data: avg, borderColor:'rgba(78,118,172,0.9)', borderWidth:1,
       pointRadius:0, tension:0, order: 5},
      {type:'line', label:'longs', xAxisID:'x', yAxisID:'y2', data: longs, borderColor:'rgba(120,132,122,0.95)', borderWidth:1,
       pointRadius:0, tension:0, order: 4},
      {type:'line', label:'shorts', xAxisID:'x', yAxisID:'ys', data: shorts, borderColor:'rgba(172,72,72,0.9)', borderWidth:1,
       pointRadius:0, tension:0, order: 3}
    ]
  },
  options: {
    responsive: false, animation: false, devicePixelRatio: 1,
    layout: {padding: {top: 8, left: 0, right: 0, bottom: 0}},
    plugins: {legend: {display: false}, tooltip: {enabled: false}},
    scales: {
      x: {type:'linear', axis:'x', position:'bottom', min: X_RANGE[0], max: X_RANGE[1], offset:false,
          grid:{display:false, drawTicks:false, offset:false}, border:{display:true, color:'#c4c4c4'},
          afterBuildTicks: s => { s.ticks = MONTH_TICKS.map(m => ({value: dayOf(m[0])})); },
          afterFit: s => { s.height = 15; },
          ticks:{autoSkip:false, maxRotation:0, padding:4, color:'#4a4a4a', font:{size:6}, callback: v => monthLabel[v] || ''}},
      y: {type:'linear', axis:'y', position:'right', stack:'panes', stackWeight: PANE_WEIGHTS[0],
          min: PRICE_RANGE[0], max: PRICE_RANGE[1], offset:false,
          grid:{display:false, drawTicks:false, offset:false}, border:{display:true, color:'#cfcfcf'},
          afterBuildTicks: s => { s.ticks = PRICE_TICKS.map(v => ({value: v})); },
          afterFit: s => { s.width = 40; },
          ticks:{autoSkip:false, padding:3, color:'#5a5a5a', font:{size:5.5}, callback: v => Number(v).toFixed(7)}},
      y2: {type:'linear', axis:'y', position:'right', stack:'panes', stackWeight: PANE_WEIGHTS[1],
          min: LOWER_RANGE[0], max: LOWER_RANGE[1], offset:false,
          grid:{display:false, drawTicks:false, offset:false}, border:{display:true, color:'#cfcfcf'},
          afterBuildTicks: s => { s.ticks = LOWER_TICKS.map(v => ({value: v})); },
          afterFit: s => { s.width = 40; },
          ticks:{autoSkip:false, padding:3, color:'#5a5a5a', font:{size:5.5}, callback: v => Number(v).toFixed(4)}},
      yv: {type:'linear', axis:'y', display:false, position:'left', min: VOL_RANGE[0], max: VOL_RANGE[1], offset:false},
      ys: {type:'linear', axis:'y', display:false, position:'left', min: SHORTS_RANGE[0], max: SHORTS_RANGE[1], offset:false},
      xvp: {type:'linear', axis:'x', display:false, position:'top', min: PROFILE_RANGE[0], max: PROFILE_RANGE[1], reverse:true, offset:false}
    }
  },
  plugins: [decor]
});
</script>
</body></html>
